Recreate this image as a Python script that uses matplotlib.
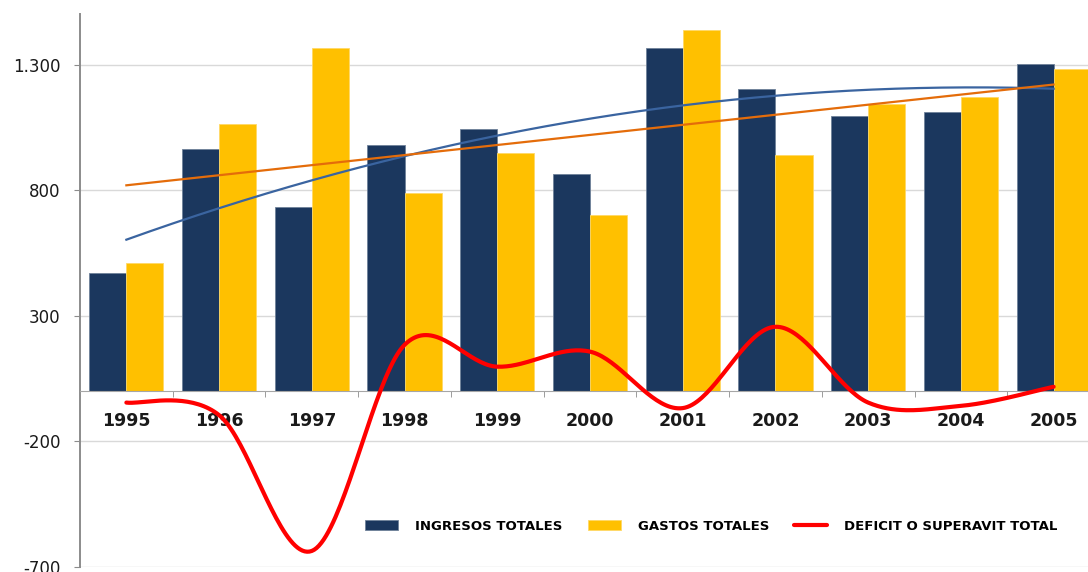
import numpy as np
import matplotlib
matplotlib.use("Agg")
import matplotlib.pyplot as plt
from matplotlib.ticker import FuncFormatter

# Datos
anios = ['1995', '1996', '1997', '1998', '1999', '2000',
         '2001', '2002', '2003', '2004', '2005']
ingresos = [471, 965, 734, 981, 1045, 866, 1368, 1204, 1097, 1113, 1304]
gastos = [511, 1065, 1368, 790, 949, 702, 1439, 941, 1145, 1172, 1284]
deficit = [-45, -95, -636, 185, 98, 158, -67, 257, -45, -58, 18]
yticks = [-700, -200, 300, 800, 1300]

navy = '#1B375E'
oro = '#FFC000'
rojo = '#FF0000'
azul_tend = '#3A64A0'
naranja_tend = '#E46C0A'


def suavizar(x, y, pasos=40):
    # curva suavizada tipo Excel (Bezier / Catmull-Rom)
    p = np.column_stack([x, y]).astype(float)
    p = np.vstack([p[0], p, p[-1]])
    xs, ys = [], []
    for i in range(1, len(p) - 2):
        p0, p1, p2, p3 = p[i - 1], p[i], p[i + 1], p[i + 2]
        c1 = p1 + (p2 - p0) / 6
        c2 = p2 - (p3 - p1) / 6
        t = np.linspace(0, 1, pasos)[:, None]
        b = ((1 - t) ** 3) * p1 + 3 * ((1 - t) ** 2) * t * c1 + \
            3 * (1 - t) * t ** 2 * c2 + t ** 3 * p2
        xs.extend(b[:, 0])
        ys.extend(b[:, 1])
    return np.array(xs), np.array(ys)


x = np.arange(len(anios))
ancho = 0.4

fig = plt.figure(figsize=(10.88, 5.72), dpi=100)
ax = fig.add_axes([80 / 1088, 5 / 572, 1020 / 1088, 553 / 572])

b1 = ax.bar(x - ancho / 2, ingresos, ancho, color=navy, edgecolor='#6F8199',
            linewidth=0.6, zorder=2, label='INGRESOS TOTALES')
b2 = ax.bar(x + ancho / 2, gastos, ancho, color=oro, edgecolor='#FFD966',
            linewidth=0.6, zorder=2, label='GASTOS TOTALES')

# lineas de tendencia
xt = np.linspace(0, 10, 200)
pol = np.polyfit(x, ingresos, 2)
ax.plot(xt, np.polyval(pol, xt), color=azul_tend, lw=1.6, zorder=3)
lin = np.polyfit(x, gastos, 1)
ax.plot(xt, np.polyval(lin, xt) - 12, color=naranja_tend, lw=1.6, zorder=3)

xs, ys = suavizar(x, deficit)
linea, = ax.plot(xs, ys, color=rojo, lw=3, zorder=4,
                 solid_capstyle='round', label='DEFICIT O SUPERAVIT TOTAL')

# ejes (la posicion del eje x va primero porque reinicia los ticks)
for s in ['top', 'right']:
    ax.spines[s].set_visible(False)
ax.spines['bottom'].set_position(('data', 0))
ax.spines['bottom'].set_color('#A6A6A6')
ax.spines['left'].set_color('#8C8C8C')
ax.spines['left'].set_linewidth(1.4)

ax.set_xlim(-0.5, 10.5)
ax.set_ylim(-700, 1503)
ax.set_yticks(yticks)
ax.yaxis.set_major_formatter(FuncFormatter(lambda v, p: f'{int(v):,}'.replace(',', '.')))
ax.grid(axis='y', color='#D9D9D9', lw=1, zorder=0)
ax.set_axisbelow(True)

ax.set_xticks(x)
ax.set_xticks(np.arange(0.5, 10.5, 1), minor=True)
ax.tick_params(axis='x', which='major', length=0, pad=15, labelsize=12.5,
               labelcolor='#1a1a1a')
ax.tick_params(axis='x', which='minor', length=4, color='#8C8C8C', direction='out')
ax.tick_params(axis='y', length=4, color='#8C8C8C', pad=10, labelsize=12,
               labelcolor='#1a1a1a')
ax.set_xticklabels(anios, fontweight='bold')

fig.legend(handles=[b1, b2, linea], loc='center left',
           bbox_to_anchor=(365 / 1088, 46 / 572), ncol=3, frameon=False,
           prop={'weight': 'bold', 'size': 9.5}, handlelength=2.5,
           handletextpad=1.3, columnspacing=1.9, borderpad=0, borderaxespad=0)

fig.savefig('out.png', dpi=100)
